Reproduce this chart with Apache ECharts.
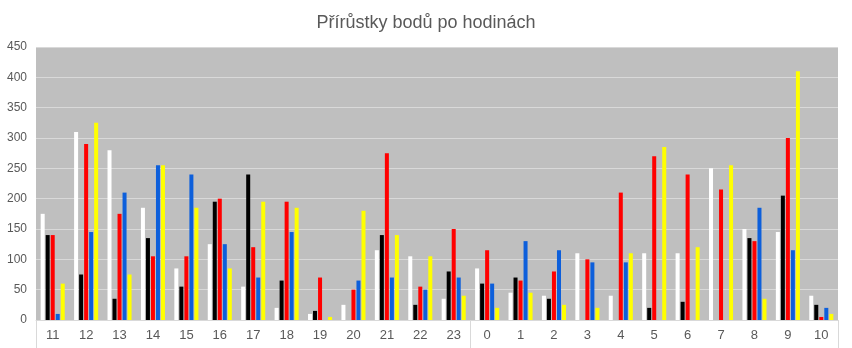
<!DOCTYPE html>
<html>
<head>
<meta charset="utf-8">
<script src="https://cdn.jsdelivr.net/npm/echarts@6/dist/echarts.min.js"></script>
<style>
  html, body { margin: 0; padding: 0; background: #ffffff; }
  #chart { width: 852px; height: 348px; }
</style>
</head>
<body>
<div id="chart"></div>
<script>
// Hours of the day, starting at 11:00 and wrapping past midnight
const hours = ['11','12','13','14','15','16','17','18','19','20','21','22','23','0','1','2','3','4','5','6','7','8','9','10'];

// Point gains per hour for each team
const whiteTeam  = [175,310,280,185,85,125,55,20,10,25,115,105,35,85,45,40,110,40,110,110,250,150,145,40];
const blackTeam  = [140,75,35,135,55,195,240,65,15,0,140,25,80,60,70,35,0,0,20,30,0,135,205,25];
const redTeam    = [140,290,175,105,105,200,120,195,70,50,275,55,150,115,65,80,100,210,270,240,215,130,300,5];
const blueTeam   = [10,145,210,255,240,125,70,145,0,65,70,50,70,60,130,115,95,95,0,0,0,185,115,20];
const yellowTeam = [60,325,75,255,185,85,195,185,5,180,140,105,40,20,45,25,20,110,285,120,255,35,410,10];

const yTicks = { min: 0, max: 450, interval: 50 };

// Boundary indices where the day changes (start, midnight, end)
const dayBreaks = [0, 13, 24];

const teams = [
  { name: 'Bílí',    data: whiteTeam,  color: '#ffffff' },
  { name: 'Černí',   data: blackTeam,  color: '#000000' },
  { name: 'Červení', data: redTeam,    color: '#ff0000' },
  { name: 'Modří',   data: blueTeam,   color: '#0d5fdb' },
  { name: 'Žlutí',   data: yellowTeam, color: '#ffff00' }
];

const chart = echarts.init(document.getElementById('chart'), null, { renderer: 'canvas' });

chart.setOption({
  animation: false,
  backgroundColor: '#ffffff',
  title: {
    text: 'Přírůstky bodů po hodinách',
    left: 'center',
    top: 9,
    textStyle: {
      fontFamily: 'Liberation Sans, Arial, sans-serif',
      fontSize: 18,
      fontWeight: 'normal',
      color: '#595959'
    }
  },
  grid: {
    left: 36,
    right: 14,
    top: 47,
    bottom: 28,
    show: true,
    backgroundColor: '#bfbfbf',
    borderWidth: 0,
    containLabel: false
  },
  xAxis: {
    type: 'category',
    data: hours,
    boundaryGap: true,
    axisLine: { show: true, lineStyle: { color: '#d9d9d9', width: 1 } },
    axisTick: {
      show: true,
      length: 28,
      interval: function (index) { return dayBreaks.indexOf(index) !== -1; },
      lineStyle: { color: '#d9d9d9', width: 1 }
    },
    axisLabel: {
      interval: 0,
      margin: 9,
      fontFamily: 'Liberation Sans, Arial, sans-serif',
      fontSize: 13,
      color: '#595959'
    },
    splitLine: { show: false }
  },
  yAxis: {
    type: 'value',
    min: yTicks.min,
    max: yTicks.max,
    interval: yTicks.interval,
    axisLine: { show: false },
    axisTick: { show: false },
    axisLabel: {
      margin: 9,
      fontFamily: 'Liberation Sans, Arial, sans-serif',
      fontSize: 12,
      color: '#595959'
    },
    splitLine: { show: true, lineStyle: { color: '#d9d9d9', width: 1 } }
  },
  series: teams.map(t => ({
    name: t.name,
    type: 'bar',
    data: t.data,
    barGap: '25%',
    barCategoryGap: '28%',
    itemStyle: { color: t.color },
    emphasis: { disabled: true }
  }))
});
</script>
</body>
</html>
